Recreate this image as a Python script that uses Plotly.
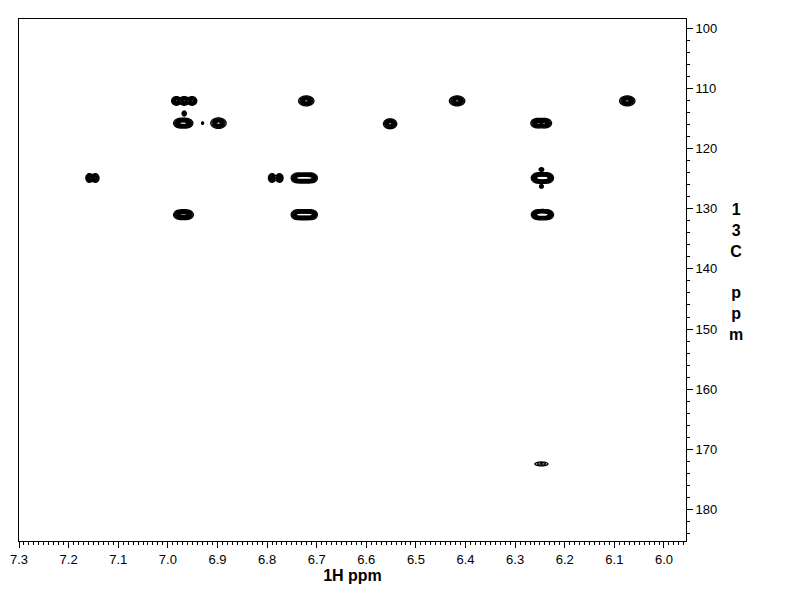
import numpy as np
import plotly.graph_objects as go

# Peak components (1H ppm, 13C ppm, half-widths, amplitude, cluster id)
peak_h = [6.983, 6.967, 6.951,
          6.721,
          6.417,
          6.074,
          6.975, 6.963,
          6.967,
          6.930,
          6.898,
          6.552,
          6.255, 6.240,
          7.158, 7.146,
          6.790, 6.775,
          6.740, 6.730, 6.720, 6.710,
          6.255, 6.245, 6.235,
          6.247,
          6.247,
          6.975, 6.962,
          6.740, 6.730, 6.720, 6.710,
          6.255, 6.245, 6.235,
          6.247]
peak_c = [112.1, 112.1, 112.1,
          112.1,
          112.1,
          112.1,
          115.8, 115.8,
          114.2,
          115.8,
          115.8,
          115.9,
          115.8, 115.8,
          124.9, 124.9,
          124.9, 124.9,
          124.9, 124.9, 124.9, 124.9,
          124.9, 124.9, 124.9,
          123.5,
          126.3,
          131.0, 131.0,
          131.0, 131.0, 131.0, 131.0,
          131.0, 131.0, 131.0,
          172.4]
peak_wh = [0.0045, 0.0045, 0.0045,
           0.0075,
           0.0075,
           0.0075,
           0.0065, 0.0065,
           0.0025,
           0.0015,
           0.0075,
           0.0065,
           0.0065, 0.0065,
           0.0035, 0.0035,
           0.0035, 0.0035,
           0.0055, 0.0055, 0.0055, 0.0055,
           0.0060, 0.0060, 0.0060,
           0.0030,
           0.0025,
           0.0065, 0.0065,
           0.0055, 0.0055, 0.0055, 0.0055,
           0.0060, 0.0060, 0.0060,
           0.0090]
peak_wc = [0.35, 0.35, 0.35,
           0.40,
           0.40,
           0.40,
           0.38, 0.38,
           0.25,
           0.15,
           0.42,
           0.40,
           0.38, 0.38,
           0.35, 0.35,
           0.35, 0.35,
           0.38, 0.38, 0.38, 0.38,
           0.40, 0.40, 0.40,
           0.20,
           0.20,
           0.38, 0.38,
           0.38, 0.38, 0.38, 0.38,
           0.38, 0.38, 0.38,
           0.22]
peak_amp = [1.0, 1.0, 1.0,
            1.0,
            1.0,
            1.0,
            1.0, 1.0,
            0.5,
            0.3,
            1.0,
            1.0,
            1.0, 1.0,
            1.0, 1.0,
            1.0, 1.0,
            1.0, 1.0, 1.0, 1.0,
            1.0, 1.0, 1.0,
            0.4,
            0.4,
            1.0, 1.0,
            1.0, 1.0, 1.0, 1.0,
            1.0, 1.0, 1.0,
            0.35]
peak_group = [0, 0, 0,
              1,
              2,
              3,
              4, 4,
              5,
              6,
              7,
              8,
              9, 9,
              10, 10,
              11, 11,
              12, 12, 12, 12,
              13, 13, 13,
              14,
              15,
              16, 16,
              17, 17, 17, 17,
              18, 18, 18,
              19]

x_range = [7.3, 5.9556]
y_range = [185.2, 98.5]

fig = go.Figure()

ph = np.array(peak_h); pc = np.array(peak_c)
pwh = np.array(peak_wh); pwc = np.array(peak_wc)
pa = np.array(peak_amp); pg = np.array(peak_group)

for g in sorted(set(peak_group)):
    m = pg == g
    hs, cs, whs, wcs, amps = ph[m], pc[m], pwh[m], pwc[m], pa[m]
    x = np.linspace(hs.min() - 4 * whs.max(), hs.max() + 4 * whs.max(), 60)
    y = np.linspace(cs.min() - 4 * wcs.max(), cs.max() + 4 * wcs.max(), 40)
    X, Y = np.meshgrid(x, y)
    Z = np.zeros_like(X)
    for h, c, wh, wc, a in zip(hs, cs, whs, wcs, amps):
        Z += a * np.exp(-((X - h) ** 2) / (2 * wh ** 2) - ((Y - c) ** 2) / (2 * wc ** 2))
    fig.add_trace(go.Contour(
        x=x, y=y, z=Z,
        contours=dict(coloring="lines", start=0.12, end=1.2, size=0.11),
        colorscale=[[0, "black"], [1, "black"]],
        line=dict(width=1.3, smoothing=0.8),
        showscale=False, hoverinfo="skip",
    ))

axis_font = dict(family="Liberation Sans, Arial, sans-serif", size=13, color="black")

fig.update_layout(
    width=792, height=612,
    margin=dict(l=11, r=114, t=11, b=79),
    paper_bgcolor="white", plot_bgcolor="white",
    showlegend=False,
    font=axis_font,
    xaxis=dict(
        range=x_range, showline=True, mirror=True, linecolor="black", linewidth=1,
        ticks="outside", tick0=6.0, dtick=0.1, ticklen=6, tickcolor="black",
        tickformat=".1f", tickfont=axis_font, automargin=False,
        minor=dict(ticks="outside", dtick=0.01, ticklen=3, tickcolor="black"),
        showgrid=False, zeroline=False,
        title=dict(text="1H ppm", standoff=4,
                   font=dict(family="Liberation Sans, Arial, sans-serif", size=16,
                             color="black", weight="bold")),
    ),
    yaxis=dict(
        range=y_range, side="right", showline=True, mirror=True, linecolor="black",
        linewidth=1, ticks="outside", tick0=100, dtick=10, ticklen=6, tickcolor="black",
        tickfont=axis_font, automargin=False,
        minor=dict(ticks="outside", dtick=2, ticklen=3, tickcolor="black"),
        showgrid=False, zeroline=False,
    ),
    annotations=[dict(
        text="1<br>3<br>C<br> <br>p<br>p<br>m",
        xref="paper", yref="paper", x=1.075, y=0.515,
        xanchor="center", yanchor="middle", showarrow=False,
        font=dict(family="Liberation Sans, Arial, sans-serif", size=16,
                  color="black", weight="bold"),
    )],
)

fig.write_html("out.html")
